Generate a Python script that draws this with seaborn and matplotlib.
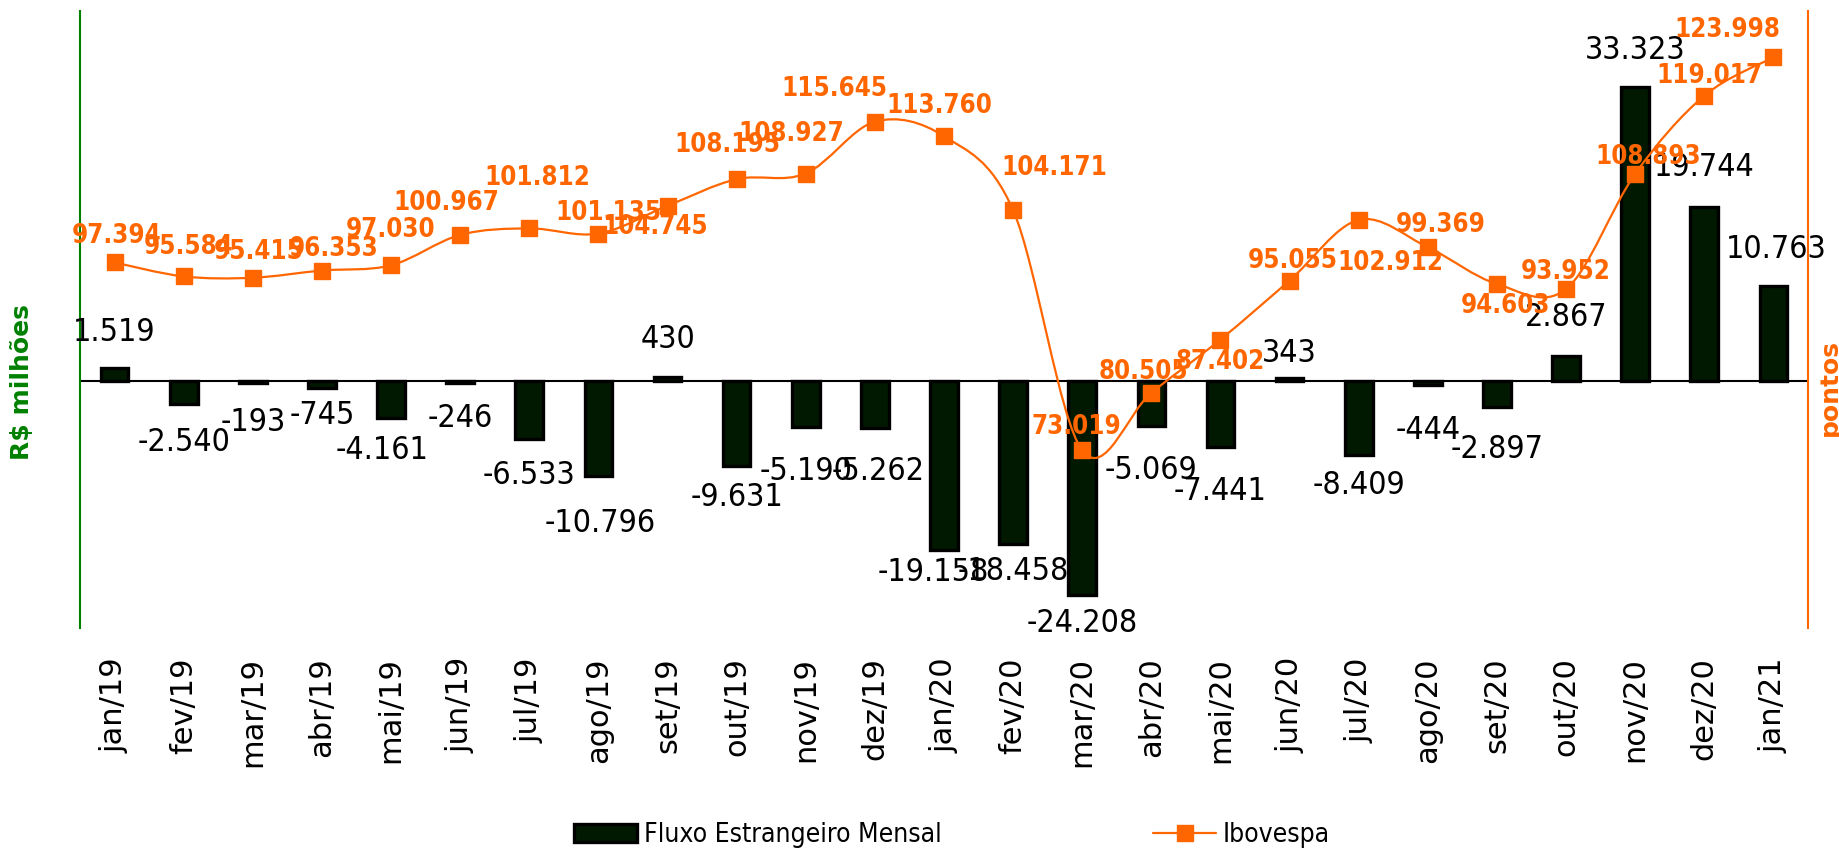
import numpy as np
import matplotlib
matplotlib.use("Agg")
import matplotlib.pyplot as plt
from matplotlib.path import Path
from matplotlib.patches import PathPatch, Patch
from matplotlib.lines import Line2D
import seaborn as sns

# ------------------------------------------------------------------
# Data : fluxo estrangeiro mensal (R$ milhoes) e Ibovespa (pontos)
# ------------------------------------------------------------------
meses = ["jan/19", "fev/19", "mar/19", "abr/19", "mai/19", "jun/19",
         "jul/19", "ago/19", "set/19", "out/19", "nov/19", "dez/19",
         "jan/20", "fev/20", "mar/20", "abr/20", "mai/20", "jun/20",
         "jul/20", "ago/20", "set/20", "out/20", "nov/20", "dez/20",
         "jan/21"]

fluxo = [1519, -2540, -193, -745, -4161, -246,
         -6533, -10796, 430, -9631, -5190, -5262,
         -19158, -18458, -24208, -5069, -7441, 343,
         -8409, -444, -2897, 2867, 33323, 19744,
         10763]

ibovespa = [97394, 95584, 95415, 96353, 97030, 100967,
            101812, 101135, 104745, 108195, 108927, 115645,
            113760, 104171, 73019, 80505, 87402, 95055,
            102912, 99369, 94603, 93952, 108893, 119017,
            123998]

# label offsets in pixels (dx, dy) - taken from the original layout
off_fluxo = [(0, 35), (0, -39), (0, -40), (0, -28), (-9, -33), (0, -35),
             (0, -37), (2, -47), (0, 38), (0, -31), (0, -45), (3, -44),
             (-11, -22), (0, -28), (0, -29), (0, -45), (0, -45), (0, 25),
             (0, -30), (0, -45), (0, -43), (0, 38), (0, 37), (0, 40),
             (3, 37)]

off_ibov = [(2, 26), (5, 29), (6, 26), (12, 22), (0, 35), (-14, 32),
            (8, 50), (10, 21), (-12, -21), (-9, 34), (-15, 40), (-41, 33),
            (-5, 30), (41, 42), (-6, 23), (-8, 21), (0, -22), (3, 20),
            (32, -43), (13, 22), (9, -22), (0, 17), (13, 17), (5, 20),
            (-46, 27)]

COR_BARRA = "#011901"
COR_LARANJA = "#FF6600"
COR_VERDE = "#008000"
FONTE_NARROW = ["Liberation Sans Narrow", "DejaVu Sans"]


def fmt(v):
    return f"{v:,}".replace(",", ".")


# smooth line like excel (catmull-rom -> bezier)
def SmoothPath(xs, ys):
    n = len(xs)
    verts = [(xs[0], ys[0])]
    codes = [Path.MOVETO]
    for i in range(n - 1):
        x0, y0 = xs[max(i - 1, 0)], ys[max(i - 1, 0)]
        x1, y1 = xs[i], ys[i]
        x2, y2 = xs[i + 1], ys[i + 1]
        x3, y3 = xs[min(i + 2, n - 1)], ys[min(i + 2, n - 1)]
        verts.append((x1 + (x2 - x0) / 6, y1 + (y2 - y0) / 6))
        verts.append((x2 - (x3 - x1) / 6, y2 - (y3 - y1) / 6))
        verts.append((x2, y2))
        codes += [Path.CURVE4] * 3
    return Path(verts, codes)


def main():
    sns.set_style("white")
    plt.rcParams["font.family"] = ["DejaVu Sans"]
    plt.rcParams["text.color"] = "black"
    plt.rcParams["xtick.color"] = "black"

    fig = plt.figure(figsize=(18.39, 8.51), dpi=100)
    ax = fig.add_axes([80 / 1839, 1 - 628 / 851, 1728 / 1839, 617 / 851])

    sns.barplot(x=meses, y=fluxo, color=COR_BARRA, saturation=1,
                edgecolor="black", linewidth=2.4, width=0.4, ax=ax, zorder=3)
    ax.axhline(0, color="black", lw=1.5, zorder=2)
    ax.set_xlim(-0.5, len(meses) - 0.5)
    ax.set_ylim(-28000, 42000)

    for i, v in enumerate(fluxo):
        ax.annotate(fmt(v), (i, v), xytext=off_fluxo[i], textcoords="offset pixels",
                    ha="center", va="center", fontsize=23, color="black",
                    family=FONTE_NARROW, fontstretch="condensed", zorder=4)

    ax2 = ax.twinx()
    ax2.set_ylim(50000, 130000)
    xs = np.arange(len(ibovespa))
    ax2.add_patch(PathPatch(SmoothPath(xs, ibovespa), facecolor="none",
                            edgecolor=COR_LARANJA, lw=1.6, zorder=3))
    ax2.plot(xs, ibovespa, ls="none", marker="s", ms=11.5, color=COR_LARANJA, zorder=4)

    for i, v in enumerate(ibovespa):
        ax2.annotate(fmt(v), (i, v), xytext=off_ibov[i], textcoords="offset pixels",
                     ha="center", va="center", fontsize=18.5, fontweight="bold",
                     fontstretch="condensed", color=COR_LARANJA, zorder=5)

    # spines
    for s in ["top", "bottom", "right"]:
        ax.spines[s].set_visible(False)
    ax.spines["left"].set_color(COR_VERDE)
    ax.spines["left"].set_linewidth(1.5)
    for s in ["top", "bottom", "left"]:
        ax2.spines[s].set_visible(False)
    ax2.spines["right"].set_color(COR_LARANJA)
    ax2.spines["right"].set_linewidth(1.5)

    ax.tick_params(axis="y", left=False, labelleft=False)
    ax2.tick_params(axis="y", right=False, labelright=False)
    ax.tick_params(axis="x", length=0, pad=21, labelsize=22, rotation=90,
                   labelcolor="black")
    ax.set_xlabel("")
    ax.set_ylabel("")
    ax2.set_ylabel("")

    fig.text(22 / 1839, 1 - 382 / 851, "R$ milhões", rotation=90, ha="center",
             va="center", fontsize=18, fontweight="bold", color=COR_VERDE)
    fig.text(1830 / 1839, 1 - 388 / 851, "pontos", rotation=90, ha="center",
             va="center", fontsize=18, fontweight="bold", color=COR_LARANJA)

    handles = [Patch(facecolor=COR_BARRA, edgecolor="black", linewidth=2.4),
               Line2D([0], [0], color=COR_LARANJA, lw=1.6, marker="s", ms=11.5)]
    leg = fig.legend(handles, ["Fluxo Estrangeiro Mensal", "Ibovespa"], loc="center",
                     bbox_to_anchor=(952 / 1839, 1 - 835 / 851), ncol=2, frameon=False,
                     prop={"family": FONTE_NARROW, "size": 19, "stretch": "condensed"},
                     handlelength=2.4, handletextpad=0.25, columnspacing=8.0,
                     borderpad=0)
    for t in leg.get_texts():
        t.set_color("black")

    fig.savefig("out.png", dpi=100)


if __name__ == "__main__":
    main()
